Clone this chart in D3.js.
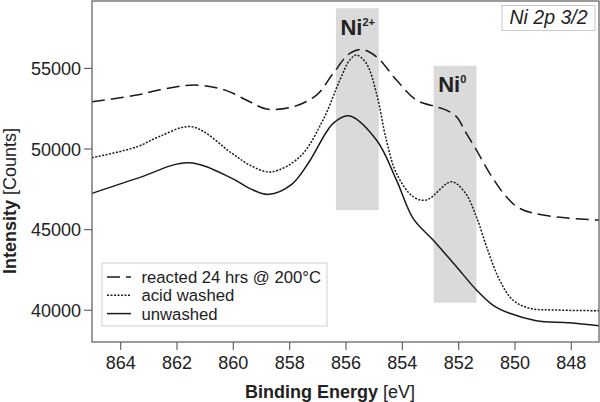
<!DOCTYPE html>
<html>
<head>
<meta charset="utf-8">
<script src="https://cdn.jsdelivr.net/npm/d3@7"></script>
<style>
  html, body { margin: 0; padding: 0; background: #fff; }
  svg { display: block; font-family: "Liberation Sans", Arial, Helvetica, sans-serif; }
</style>
</head>
<body>
<svg id="chart" width="600" height="402"></svg>
<script>
// ---- data ----
const xTicks = [864, 862, 860, 858, 856, 854, 852, 850, 848];
const yTicks = [40000, 45000, 50000, 55000];

const seriesNames = ["reacted 24 hrs @ 200°C", "acid washed", "unwashed"];

const reactedEV = [865, 863.4, 862.63, 861.34, 860.27, 859.4, 858.8, 857.86, 857.03, 856.44, 855.85, 855.43, 854.9, 854.19, 853.48, 852.77, 852.42, 852.06, 851.71, 851.35, 850.88, 850.29, 849.82, 848.99, 847.1, 847];
const reactedCounts = [52899, 53314, 53624, 53934, 53624, 52899, 52450, 52589, 53314, 54659, 55899, 56147, 55689, 54244, 53004, 52589, 52384, 51969, 50939, 49904, 48459, 47009, 46289, 45874, 45564, 45560];

const acidEV = [865, 863.4, 862.63, 861.45, 860.03, 859.4, 858.65, 857.62, 856.8, 856.2, 855.85, 855.61, 855.26, 854.9, 854.55, 854.19, 853.6, 853.13, 852.24, 851.75, 851.35, 850.95, 850.53, 850.06, 849.46, 848.52, 847];
const acidCounts = [49427, 50109, 50729, 51349, 49699, 48974, 48550, 49489, 51764, 54244, 55484, 55794, 55279, 53419, 50524, 48459, 47009, 46804, 47939, 47250, 45750, 43700, 41844, 40604, 40089, 39984, 39941];

const unwashedEV = [865, 863.4, 861.57, 860.03, 859.35, 858.73, 857.91, 857.3, 856.44, 855.88, 854.9, 854.19, 853.6, 852.89, 852.06, 851.35, 850.77, 850.17, 849.23, 848.05, 847];
const unwashedCounts = [47219, 48149, 49117, 48149, 47480, 47157, 47780, 49150, 51559, 52031, 50524, 48044, 45669, 44324, 42669, 41224, 40294, 39779, 39321, 39197, 39011];

// shaded regions (binding energy range, counts range)
const bandLabels = ["Ni", "Ni"];
const bandSup = ["2+", "0"];
const bandFromEV = [856.34, 852.87];
const bandToEV = [854.82, 851.35];
const bandTopCounts = [58700, 55130];
const bandBottomCounts = [46180, 40440];

// ---- layout ----
const svg = d3.select("#chart");
const mLeft = 92, mRight = 599, mTop = 1, mBottom = 342;
const x = d3.scaleLinear().domain([865, 847]).range([mLeft, mRight]);
const y = d3.scaleLinear().domain([38000, 59150]).range([mBottom, mTop]);
const textColor = "#222";
const axisColor = "#666";

// bands
const bands = bandLabels.map((l, i) => ({ l, sup: bandSup[i], x0: bandFromEV[i], x1: bandToEV[i], t: bandTopCounts[i], b: bandBottomCounts[i] }));
svg.append("g").selectAll("rect").data(bands).join("rect")
  .attr("x", d => x(d.x0)).attr("width", d => x(d.x1) - x(d.x0))
  .attr("y", d => y(d.t)).attr("height", d => y(d.b) - y(d.t))
  .attr("fill", "#dadada");

// band labels
const lbl = svg.append("g").selectAll("text").data(bands).join("text")
  .attr("x", d => x(d.x0) + 4.5)
  .attr("y", d => y(d.t) + 26.5)
  .attr("font-size", 22).attr("font-weight", "bold").attr("fill", textColor);
lbl.append("tspan").text(d => d.l);
lbl.append("tspan").attr("font-size", 11).attr("dy", -9).text(d => d.sup);

// lines
const makeSeries = (ev, c) => ev.map((e, i) => ({ e, c: c[i] }));
const series = [
  { name: seriesNames[0], pts: makeSeries(reactedEV, reactedCounts), dash: "13,6", w: 1.5 },
  { name: seriesNames[1], pts: makeSeries(acidEV, acidCounts), dash: "2,1.5", w: 1.5 },
  { name: seriesNames[2], pts: makeSeries(unwashedEV, unwashedCounts), dash: null, w: 1.5 }
];
const line = d3.line().x(d => x(d.e)).y(d => y(d.c)).curve(d3.curveCatmullRom.alpha(0.5));
svg.append("g").selectAll("path").data(series).join("path")
  .attr("d", d => line(d.pts))
  .attr("fill", "none").attr("stroke", "#1a1a1a")
  .attr("stroke-width", d => d.w)
  .attr("stroke-dasharray", d => d.dash);

// frame
svg.append("rect").attr("x", mLeft).attr("y", mTop).attr("width", mRight - mLeft).attr("height", mBottom - mTop)
  .attr("fill", "none").attr("stroke", axisColor).attr("stroke-width", 1.3);

// axes
const xAxis = svg.append("g").attr("transform", `translate(0,${mBottom})`)
  .call(d3.axisBottom(x).tickValues(xTicks).tickSize(8).tickPadding(6).tickFormat(d3.format("d")));
const yAxis = svg.append("g").attr("transform", `translate(${mLeft},0)`)
  .call(d3.axisLeft(y).tickValues(yTicks).tickSize(8).tickPadding(3).tickFormat(d3.format("d")));
[xAxis, yAxis].forEach(a => {
  a.select(".domain").remove();
  a.selectAll(".tick line").attr("stroke", axisColor).attr("stroke-width", 1.2);
  a.selectAll(".tick text").attr("font-size", 18).attr("fill", textColor)
    .attr("font-family", "'Liberation Sans', Arial, sans-serif");
});
yAxis.selectAll(".tick text").attr("dy", "0.36em");

// axis titles
const xt = svg.append("text").attr("x", 330).attr("y", 398).attr("text-anchor", "middle")
  .attr("font-size", 18).attr("fill", textColor);
xt.append("tspan").attr("font-weight", "bold").text("Binding Energy");
xt.append("tspan").text(" [eV]");
const yt = svg.append("text").attr("transform", "translate(16,201) rotate(-90)").attr("text-anchor", "middle")
  .attr("font-size", 18).attr("fill", textColor);
yt.append("tspan").attr("font-weight", "bold").text("Intensity");
yt.append("tspan").text(" [Counts]");

// legend
const lg = svg.append("g");
lg.append("rect").attr("x", 102).attr("y", 263).attr("width", 225).attr("height", 63)
  .attr("fill", "#fff").attr("stroke", "#cfcfcf").attr("stroke-width", 1);
series.forEach((s, i) => {
  const yy = 277 + i * 18.3;
  lg.append("line").attr("x1", 107).attr("x2", 131).attr("y1", yy).attr("y2", yy)
    .attr("stroke", "#1a1a1a").attr("stroke-width", s.w).attr("stroke-dasharray", s.dash);
  lg.append("text").attr("x", 141.5).attr("y", yy).attr("dy", "0.36em")
    .attr("font-size", 16.7).attr("fill", textColor).text(s.name);
});

// spectrum label box
const tb = svg.append("g");
tb.append("rect").attr("x", 502).attr("y", 5.5).attr("width", 93).attr("height", 25)
  .attr("fill", "#fff").attr("stroke", "#c8c8c8").attr("stroke-width", 1);
tb.append("text").attr("x", 548.5).attr("y", 24).attr("text-anchor", "middle")
  .attr("font-size", 19.5).attr("font-style", "italic").attr("fill", textColor).text("Ni 2p 3/2");
</script>
</body>
</html>
